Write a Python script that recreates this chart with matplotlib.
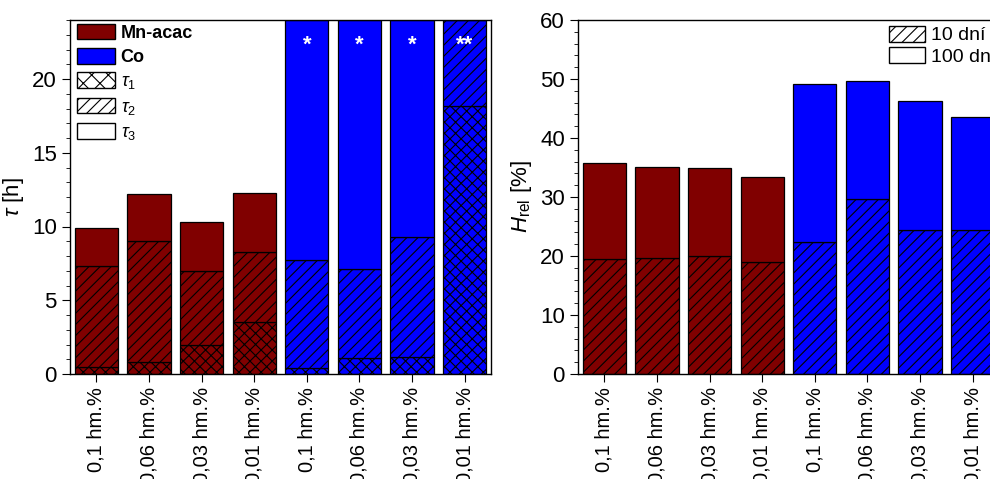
import numpy as np
import matplotlib
matplotlib.use("Agg")
import matplotlib.pyplot as plt
from matplotlib.patches import Patch
from matplotlib.ticker import MultipleLocator

plt.rcParams['font.family'] = ['Liberation Sans', 'DejaVu Sans']
plt.rcParams['hatch.linewidth'] = 0.8
plt.rcParams['mathtext.fontset'] = 'custom'
plt.rcParams['mathtext.rm'] = 'Liberation Sans'
plt.rcParams['mathtext.it'] = 'Liberation Sans:italic'

labels = ['0,1 hm.%', '0,06 hm.%', '0,03 hm.%', '0,01 hm.%',
          '0,1 hm.%', '0,06 hm.%', '0,03 hm.%', '0,01 hm.%']
groups = ['Mn-acac'] * 4 + ['Co'] * 4
group_colors = {'Mn-acac': '#800000', 'Co': '#0000ff'}

# induction periods (cumulative tops), inf = off scale
tau1 = [0.5, 0.8, 2.0, 3.5, 0.4, 1.06, 1.17, 18.2]
tau2 = [7.3, 9.0, 7.0, 8.3, 7.7, 7.1, 9.3, np.inf]
tau3 = [9.9, 12.2, 10.3, 12.3, np.inf, np.inf, np.inf, np.inf]
stars = ['', '', '', '', '*', '*', '*', '**']

# relative hardness
h10 = [19.5, 19.6, 20.0, 19.0, 22.3, 29.6, 24.4, 24.4]
h100 = [35.8, 35.1, 35.0, 33.4, 49.1, 49.7, 46.2, 43.6]

fig = plt.figure(figsize=(9.9, 4.79), dpi=100)
ax1 = fig.add_axes([70 / 990, 105 / 479, 421 / 990, 354 / 479])
ax2 = fig.add_axes([578 / 990, 105 / 479, 421 / 990, 354 / 479])

x = np.arange(len(labels))
colors = [group_colors[g] for g in groups]
w = 0.82
ymax1 = 24
H1 = 'xxx'
H2 = '///'

t1 = np.minimum(tau1, ymax1)
t2 = np.minimum(tau2, ymax1)
t3 = np.minimum(tau3, ymax1)
ax1.bar(x, t1, w, color=colors, edgecolor='black', lw=0.9, hatch=H1)
ax1.bar(x, t2 - t1, w, bottom=t1, color=colors, edgecolor='black', lw=0.9, hatch=H2)
ax1.bar(x, t3 - t2, w, bottom=t2, color=colors, edgecolor='black', lw=0.9)
for i, s in enumerate(stars):
    if s:
        ax1.text(x[i], 22.3, s, color='white', fontsize=16, fontweight='bold',
                 ha='center', va='center')

ax1.set_ylim(0, ymax1)
ax1.yaxis.set_major_locator(MultipleLocator(5))
ax1.yaxis.set_minor_locator(MultipleLocator(1))
ax1.set_ylabel(r'$\tau$ [h]', fontsize=16, labelpad=4)

handles = [Patch(facecolor='#800000', edgecolor='black', label='Mn-acac'),
           Patch(facecolor='#0000ff', edgecolor='black', label='Co'),
           Patch(facecolor='white', edgecolor='black', hatch='xx', label=r'$\tau_1$'),
           Patch(facecolor='white', edgecolor='black', hatch='///', label=r'$\tau_2$'),
           Patch(facecolor='white', edgecolor='black', label=r'$\tau_3$')]
leg = ax1.legend(handles=handles, loc='upper left', frameon=False, fontsize=13,
                 handlelength=2.1, handleheight=0.95, handletextpad=0.3,
                 labelspacing=0.35, borderaxespad=0.0,
                 bbox_to_anchor=(0.0, 1.01))
for t in leg.get_texts()[:2]:
    t.set_fontweight('bold')

h10 = np.array(h10)
h100 = np.array(h100)
ax2.bar(x, h10, w, color=colors, edgecolor='black', lw=0.9, hatch=H2)
ax2.bar(x, h100 - h10, w, bottom=h10, color=colors, edgecolor='black', lw=0.9)
ax2.set_ylim(0, 60)
ax2.yaxis.set_major_locator(MultipleLocator(10))
ax2.yaxis.set_minor_locator(MultipleLocator(2))
ax2.set_ylabel(r'$H_{\rm rel}$ [%]', fontsize=16, labelpad=4)
handles2 = [Patch(facecolor='white', edgecolor='black', hatch='///', label='10 dní'),
            Patch(facecolor='white', edgecolor='black', label='100 dní')]
ax2.legend(handles=handles2, loc='upper left', frameon=False, fontsize=14,
           handlelength=1.85, handleheight=0.85, handletextpad=0.3,
           labelspacing=0.15, borderaxespad=0.0, bbox_to_anchor=(0.72, 1.005))

for ax in (ax1, ax2):
    ax.set_xlim(-0.5, len(labels) - 0.5)
    ax.set_xticks(x)
    ax.set_xticklabels(labels, rotation=90, fontsize=14.5)
    ax.tick_params(axis='y', which='major', length=6, labelsize=16, direction='out')
    ax.tick_params(axis='y', which='minor', length=3, direction='out')
    ax.tick_params(axis='x', length=6, direction='out')
    for sp in ax.spines.values():
        sp.set_linewidth(1.0)

fig.savefig('out.png', dpi=100)
